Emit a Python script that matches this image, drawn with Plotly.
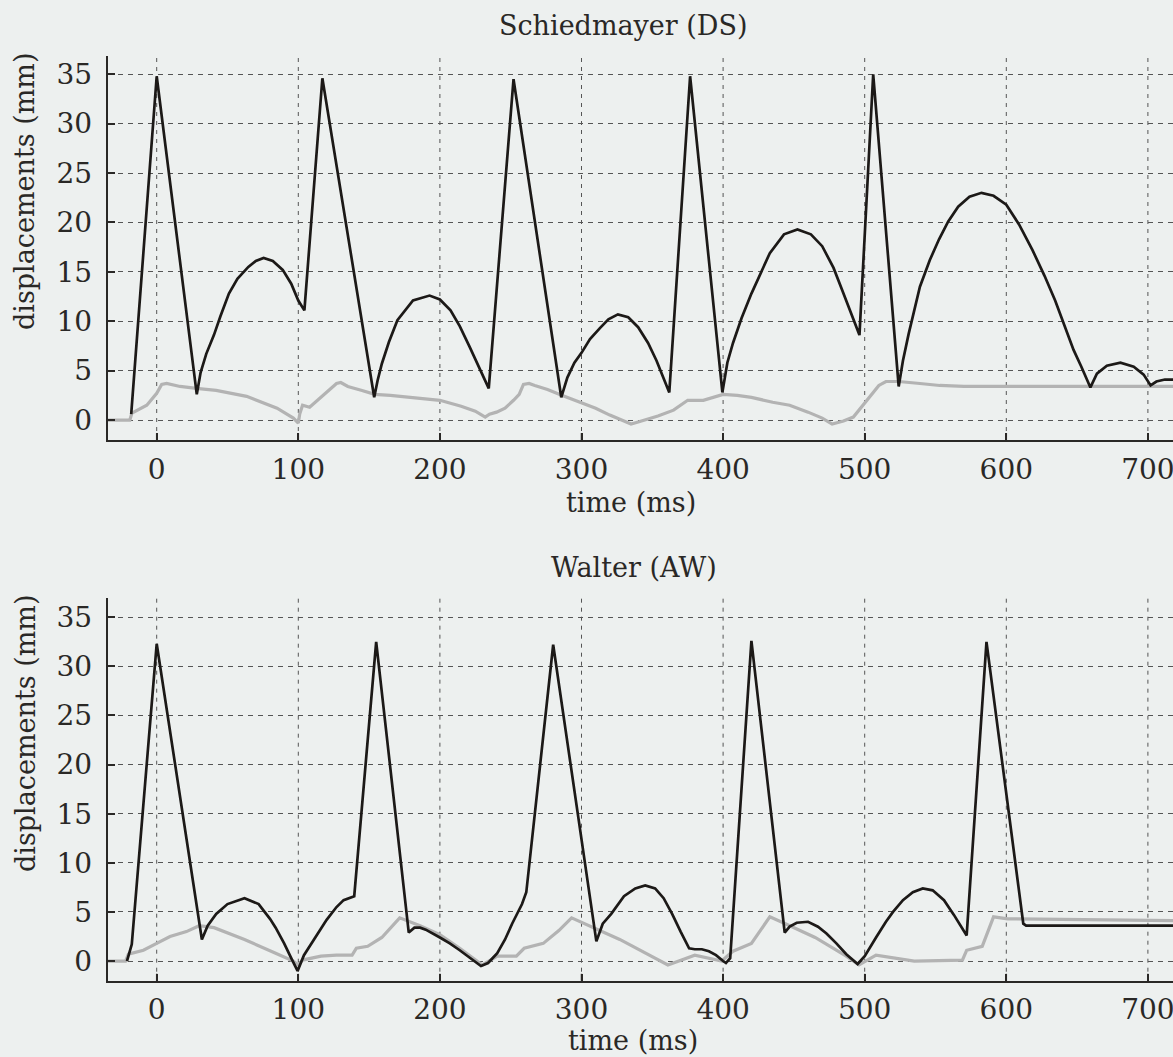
import plotly.graph_objects as go

# ---------------- data ----------------
x_ticks = [0, 100, 200, 300, 400, 500, 600, 700]
y_ticks = [0, 5, 10, 15, 20, 25, 30, 35]

titles = ["Schiedmayer (DS)", "Walter (AW)"]
x_title = "time (ms)"
y_title = "displacements (mm)"

# Schiedmayer (DS) - hammer (black)
ds_black_t = [-18, 0, 28.3, 31, 35, 40.4, 45, 51, 57, 64.7, 70, 75.5, 82, 89, 95, 100, 104.3,
              117, 153.6, 156, 159, 164, 170, 181, 192.7, 200, 207.5, 214, 221, 227, 232, 234.5,
              252, 285.7, 290, 295, 300, 306, 313, 319, 325.7, 333, 340, 347, 353, 358, 362,
              376.7, 399.5, 403, 407, 413, 420, 433, 443, 452.5, 462, 470, 478, 484, 490, 496.3,
              506, 524, 527, 531, 539, 546, 552.5, 559, 566, 574, 582.5, 591, 600, 609, 618.5,
              627, 634.5, 641, 647.5, 653, 659.4, 664, 671, 680.6, 690, 697, 701.9, 706, 712, 718, 722]
ds_black_v = [0.6, 34.8, 2.6, 4.8, 6.7, 8.6, 10.5, 12.8, 14.3, 15.5, 16.1, 16.4, 16.1, 15.2, 13.8, 12.1, 11.1,
              34.6, 2.3, 4.0, 5.7, 7.9, 10.1, 12.1, 12.6, 12.2, 11.1, 9.5, 7.4, 5.6, 4.0, 3.2,
              34.5, 2.3, 4.3, 5.8, 6.8, 8.2, 9.3, 10.2, 10.7, 10.4, 9.4, 7.8, 6.0, 4.3, 2.8,
              34.8, 2.8, 5.8, 7.8, 10.3, 12.8, 16.9, 18.8, 19.3, 18.8, 17.6, 15.4, 13.2, 11.0, 8.6,
              35.0, 3.4, 6.0, 8.7, 13.5, 16.2, 18.3, 20.1, 21.6, 22.6, 23.0, 22.7, 21.8, 19.8, 17.2,
              14.6, 12.1, 9.7, 7.1, 5.4, 3.3, 4.7, 5.5, 5.8, 5.4, 4.6, 3.5, 3.9, 4.1, 4.1, 4.0]

# Schiedmayer (DS) - key (grey)
ds_gray_t = [-35, -19, -17.5, -7, 0, 3.5, 7, 16.5, 28, 42, 63.5, 85, 96.5, 100, 101, 103, 108, 115, 122,
             127, 130, 135, 145, 154, 165, 172, 185, 200, 215, 225, 232, 235, 240, 246, 252, 256, 259,
             263, 267, 276, 286, 295, 302, 310, 320, 328, 335, 340, 354, 365, 375, 386, 393, 400, 410,
             420, 435, 447, 460, 470, 477, 485, 492, 497, 502, 506, 510, 515, 524, 539, 553, 570, 600,
             650, 700, 722]
ds_gray_v = [0, 0, 0.7, 1.5, 2.7, 3.6, 3.7, 3.4, 3.2, 3.0, 2.4, 1.2, 0.2, -0.3, 0.6, 1.5, 1.3, 2.2, 3.1,
             3.7, 3.8, 3.4, 3.0, 2.6, 2.5, 2.4, 2.2, 2.0, 1.4, 0.9, 0.3, 0.6, 0.8, 1.2, 2.0, 2.6, 3.6,
             3.7, 3.5, 3.1, 2.5, 2.0, 1.6, 1.2, 0.5, 0.0, -0.4, -0.2, 0.4, 1.0, 2.0, 2.0, 2.3, 2.6, 2.5,
             2.3, 1.8, 1.5, 0.8, 0.2, -0.4, -0.1, 0.3, 1.2, 2.1, 2.8, 3.5, 3.9, 3.9, 3.7, 3.5, 3.4, 3.4,
             3.4, 3.4, 3.4]

# Walter (AW) - hammer (black)
aw_black_t = [-21, -17.6, 0, 31.9, 36, 42, 50, 62, 72, 80, 84, 90, 95, 99.5,
              104, 113.5, 120, 127, 132, 139.5, 155, 178, 182, 186, 190, 200, 207, 214, 224, 229,
              234, 240.5, 246, 251, 258, 261, 280, 310.5, 315, 321, 330, 338, 345, 352, 358, 364,
              370, 376, 380, 385, 390, 395, 400, 402, 405, 420, 443.5, 447, 452, 460, 467, 473,
              480, 487, 495, 500, 508, 515, 520, 527, 534, 541, 548, 556, 563, 568, 572, 586, 612,
              614, 722]
aw_black_v = [0, 1.7, 32.3, 2.2, 3.6, 4.8, 5.8, 6.4, 5.8, 4.3, 3.4, 1.8, 0.3, -1.0,
              0.6, 2.7, 4.2, 5.5, 6.2, 6.6, 32.5, 2.9, 3.4, 3.4, 3.2, 2.4, 1.8, 1.1, 0.0, -0.5,
              -0.2, 0.8, 2.2, 3.8, 5.8, 7.0, 32.2, 2.0, 3.8, 4.8, 6.6, 7.4, 7.7, 7.4, 6.4, 4.8,
              3.0, 1.3, 1.2, 1.2, 1.0, 0.6, 0.0, -0.2, 0.3, 32.6, 2.9, 3.5, 3.9, 4.0, 3.5, 2.8,
              1.8, 0.7, -0.3, 0.5, 2.4, 4.0, 5.0, 6.2, 7.0, 7.4, 7.2, 6.2, 4.7, 3.6, 2.6, 32.5, 3.8,
              3.6, 3.6]

# Walter (AW) - key (grey)
aw_gray_t = [-35, -22, -20, -9.4, 0, 9.4, 21, 30, 40.5, 62, 84, 96.5, 100, 103, 116, 127, 138, 141,
             149, 159, 171.6, 186, 200, 214, 230, 240.5, 254, 259.5, 273, 284, 293, 305, 327, 361,
             380, 399, 407, 420, 433, 444, 465, 487, 496, 508, 535, 569, 572, 583, 591, 601, 650, 722]
aw_gray_v = [0, 0, 0.7, 1.1, 1.8, 2.5, 3.0, 3.6, 3.4, 2.2, 0.8, 0.0, -0.4, 0.1, 0.5, 0.6, 0.6, 1.3,
             1.5, 2.4, 4.4, 3.6, 2.7, 1.3, -0.4, 0.5, 0.5, 1.3, 1.8, 3.1, 4.4, 3.6, 2.2, -0.4,
             0.6, 0.0, 1.0, 1.8, 4.5, 3.8, 2.4, 0.5, -0.4, 0.6, 0.0, 0.1, 1.1, 1.5, 4.5, 4.3, 4.2, 4.1]

# ---------------- styling ----------------
W, H = 1173, 1057          # visible window
W_FIG = 1240               # figure is a bit wider; the window crops it like the scanned page
BG = "#edf0ef"
INK = "#2a2826"
GRID = "#555555"
FONT = "DejaVu Serif"
BLACK = "#1c1917"
GREY = "#b3b3b3"

PX_PER_MS = 1.416
X0_PX = 156.7              # pixel of t = 0
AXIS_PX = 107.7            # pixel of the y axis line


def px_x(p):
    return p / W_FIG


def px_y(p):
    return 1 - p / H


fig = go.Figure()

fig.add_trace(go.Scatter(x=ds_gray_t, y=ds_gray_v, mode="lines", line=dict(color=GREY, width=3.2),
                         xaxis="x", yaxis="y", showlegend=False))
fig.add_trace(go.Scatter(x=ds_black_t, y=ds_black_v, mode="lines", line=dict(color=BLACK, width=2.7),
                         xaxis="x", yaxis="y", showlegend=False))
fig.add_trace(go.Scatter(x=aw_gray_t, y=aw_gray_v, mode="lines", line=dict(color=GREY, width=3.2),
                         xaxis="x2", yaxis="y2", showlegend=False))
fig.add_trace(go.Scatter(x=aw_black_t, y=aw_black_v, mode="lines", line=dict(color=BLACK, width=2.7),
                         xaxis="x2", yaxis="y2", showlegend=False))

xrange = [(AXIS_PX - X0_PX) / PX_PER_MS, (W_FIG - X0_PX) / PX_PER_MS]
tickfont = dict(family=FONT, size=28, color=INK)

common_x = dict(range=xrange, tickmode="array", tickvals=x_ticks, ticktext=[str(v) for v in x_ticks],
                showline=True, linecolor=INK, linewidth=2,
                ticks="inside", ticklen=7, tickwidth=1.5, tickcolor=INK,
                showgrid=False, zeroline=False, tickfont=tickfont, ticklabelstandoff=3,
                fixedrange=True)
common_y = dict(tickmode="array", tickvals=y_ticks, ticktext=[str(v) for v in y_ticks],
                showline=True, linecolor=INK, linewidth=2,
                ticks="inside", ticklen=7, tickwidth=1.5, tickcolor=INK,
                showgrid=True, gridcolor=GRID, gridwidth=1, griddash="5px,5px",
                zeroline=False, tickfont=tickfont, ticklabelstandoff=8, fixedrange=True)

x_dom = [px_x(AXIS_PX), 1.0]

fig.update_layout(
    width=W_FIG, height=H,
    margin=dict(l=0, r=0, t=0, b=0),
    paper_bgcolor=BG, plot_bgcolor=BG,
    xaxis=dict(domain=x_dom, anchor="y", **common_x),
    yaxis=dict(domain=[px_y(440), px_y(56)], range=[-2.02, 36.85], anchor="x", **common_y),
    xaxis2=dict(domain=x_dom, anchor="y2", **common_x),
    yaxis2=dict(domain=[px_y(980.7), px_y(598.3)], range=[-2.0, 36.93], anchor="x2", **common_y),
)

# vertical dashed grid lines at every x tick (both panels)
shapes = []
for xr, yr in (("x", "y domain"), ("x2", "y2 domain")):
    for v in x_ticks:
        shapes.append(dict(type="line", xref=xr, yref=yr, x0=v, x1=v, y0=0, y1=1, layer="below",
                           line=dict(color=GRID, width=1, dash="4px,5px")))
        shapes.append(dict(type="line", xref=xr, yref=yr, x0=v, x1=v, y0=0, y1=0.018, layer="below",
                           line=dict(color=INK, width=1.5)))
fig.update_layout(shapes=shapes)

ann_font_title = dict(family=FONT, size=27, color=INK)
annotations = [
    dict(text=titles[0], x=px_x(623.5), y=px_y(26), xref="paper", yref="paper",
         xanchor="center", yanchor="middle", showarrow=False, font=ann_font_title),
    dict(text=titles[1], x=px_x(634), y=px_y(567), xref="paper", yref="paper",
         xanchor="center", yanchor="middle", showarrow=False, font=ann_font_title),
    dict(text=x_title, x=px_x(631), y=px_y(502), xref="paper", yref="paper",
         xanchor="center", yanchor="middle", showarrow=False, font=ann_font_title),
    dict(text=x_title, x=px_x(633), y=px_y(1040), xref="paper", yref="paper",
         xanchor="center", yanchor="middle", showarrow=False, font=ann_font_title),
    dict(text=y_title, x=px_x(25), y=px_y(192), xref="paper", yref="paper", textangle=-90,
         xanchor="center", yanchor="middle", showarrow=False, font=ann_font_title),
    dict(text=y_title, x=px_x(25), y=px_y(734), xref="paper", yref="paper", textangle=-90,
         xanchor="center", yanchor="middle", showarrow=False, font=ann_font_title),
]
fig.update_layout(annotations=annotations)

fig.write_html(
    "out.html",
    config={"displayModeBar": False},
    post_script=("document.documentElement.style.overflow='hidden';"
                 "document.body.style.overflow='hidden';"
                 "document.body.style.margin='0px';"
                 "document.body.style.background='" + BG + "';"),
)
